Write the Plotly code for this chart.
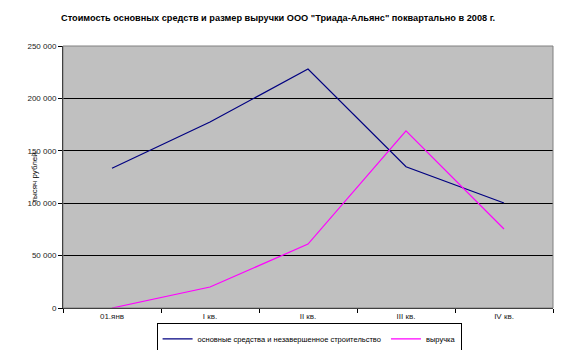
import plotly.graph_objects as go

categories = ["01.янв", "I кв.", "II кв.", "III кв.", "IV кв."]
fixed_assets = [133300, 177500, 228000, 134800, 100200]
revenue = [0, 20000, 61000, 169000, 75400]
y_ticks = [0, 50000, 100000, 150000, 200000, 250000]
y_tick_labels = ["0", "50 000", "100 000", "150 000", "200 000", "250 000"]

FONT = "Liberation Sans, Arial, sans-serif"

fig = go.Figure()
fig.add_trace(go.Scatter(x=categories, y=fixed_assets, mode="lines",
                         name="основные средства и незавершенное строительство",
                         line=dict(color="#000080", width=1.2)))
fig.add_trace(go.Scatter(x=categories, y=revenue, mode="lines",
                         name="выручка",
                         line=dict(color="#FF00FF", width=1.2)))

fig.update_layout(
    width=563, height=350,
    margin=dict(l=63, r=10, t=46, b=42, autoexpand=False),
    paper_bgcolor="white",
    plot_bgcolor="#C0C0C0",
    font=dict(family=FONT, size=8, color="black"),
    title=dict(text="<b>Стоимость основных средств и размер выручки ООО \"Триада-Альянс\" поквартально в 2008 г.</b>",
               xref="container", x=0.494, xanchor="center",
               yref="container", y=0.949, yanchor="middle",
               font=dict(size=9.2, family=FONT, color="black")),
    showlegend=True,
    legend=dict(orientation="h", xref="container", x=0.549, xanchor="center",
                yref="container", y=0.032, yanchor="middle",
                bordercolor="black", borderwidth=1, bgcolor="white",
                font=dict(size=7.5, color="black"), itemwidth=30, tracegroupgap=0,
                traceorder="normal"),
    xaxis=dict(type="category", range=[-0.5, 4.5], tickson="boundaries",
               ticks="outside", ticklen=4, tickcolor="black",
               showline=True, linecolor="black", linewidth=1, mirror=False,
               showgrid=False, tickfont=dict(size=8, color="#222")),
    yaxis=dict(range=[0, 250000], tickvals=y_ticks, ticktext=y_tick_labels,
               ticks="outside", ticklen=4, tickcolor="black",
               showline=True, linecolor="black", linewidth=1,
               showgrid=True, gridcolor="black", gridwidth=1,
               zeroline=False, tickfont=dict(size=8, color="#222")),
    annotations=[dict(text="тысяч рублей", xref="paper", yref="paper",
                      x=-0.06, y=0.496, textangle=-90, showarrow=False,
                      xanchor="center", yanchor="middle",
                      font=dict(size=8, color="black"))],
)

fig.add_shape(type="rect", xref="paper", yref="paper", x0=0, y0=0, x1=1, y1=1,
              line=dict(color="#808080", width=1), layer="above")

fig.write_html("out.html")
